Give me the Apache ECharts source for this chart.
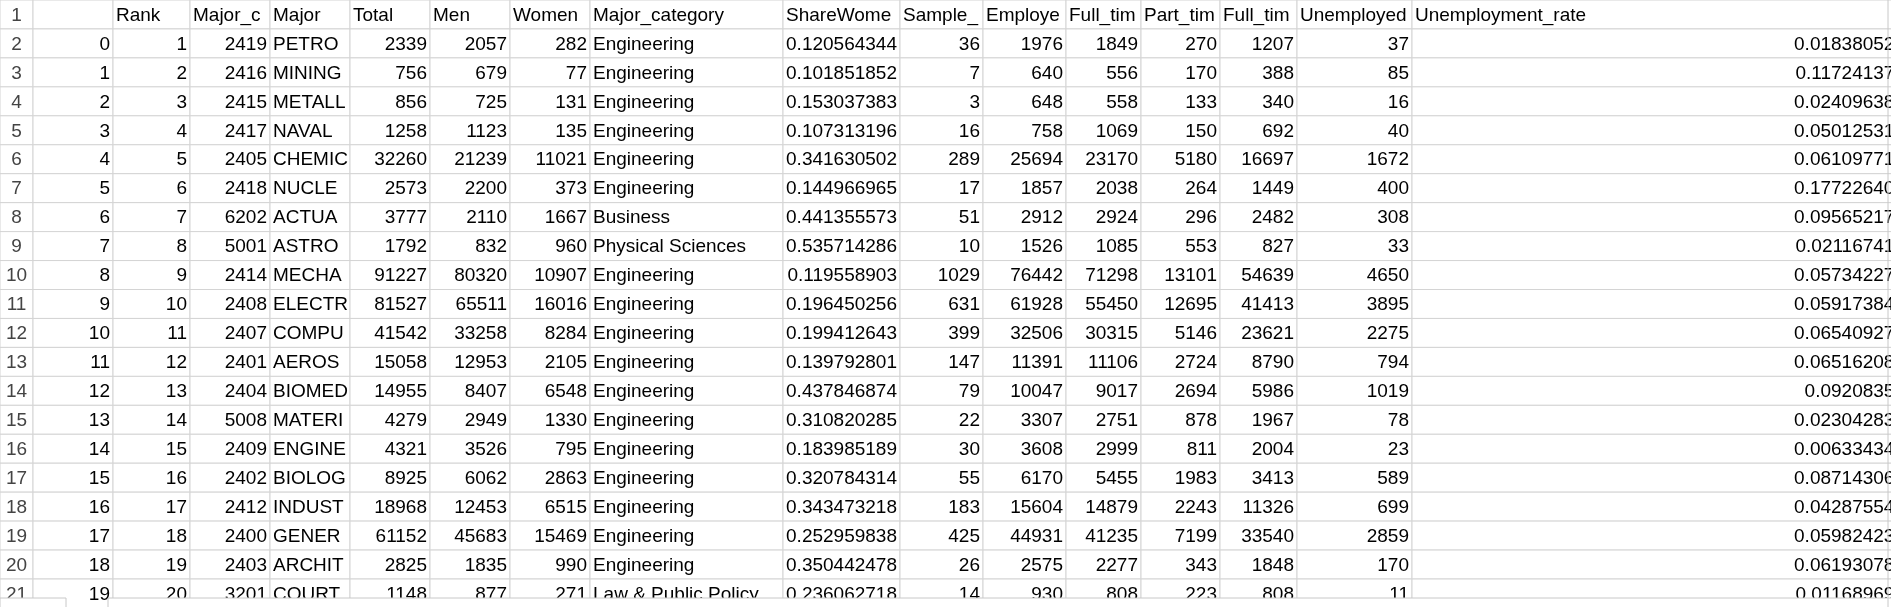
<!DOCTYPE html>
<html>
<head>
<meta charset="utf-8">
<script src="https://cdn.jsdelivr.net/npm/echarts@6/dist/echarts.min.js"></script>
<style>html,body{margin:0;padding:0;background:#fff}#main{width:1891px;height:607px}</style>
</head>
<body>
<div id="main"></div>
<script>
var headers = ['', 'Rank', 'Major_code', 'Major', 'Total', 'Men', 'Women', 'Major_category', 'ShareWomen',
  'Sample_size', 'Employed', 'Full_time', 'Part_time', 'Full_time_year_round', 'Unemployed', 'Unemployment_rate'];
var idx = [0, 1, 2, 3, 4, 5, 6, 7, 8, 9, 10, 11, 12, 13, 14, 15, 16, 17, 18, 19];
var rank = [1, 2, 3, 4, 5, 6, 7, 8, 9, 10, 11, 12, 13, 14, 15, 16, 17, 18, 19, 20];
var majorCode = [2419, 2416, 2415, 2417, 2405, 2418, 6202, 5001, 2414, 2408, 2407, 2401, 2404, 5008, 2409, 2402, 2412, 2400, 2403, 3201];
var major = ['PETROLEUM ENGINEERING', 'MINING AND MINERAL ENGINEERING', 'METALLURGICAL ENGINEERING',
  'NAVAL ARCHITECTURE AND MARINE ENGINEERING', 'CHEMICAL ENGINEERING', 'NUCLEAR ENGINEERING', 'ACTUARIAL SCIENCE',
  'ASTRONOMY AND ASTROPHYSICS', 'MECHANICAL ENGINEERING', 'ELECTRICAL ENGINEERING', 'COMPUTER ENGINEERING',
  'AEROSPACE ENGINEERING', 'BIOMEDICAL ENGINEERING', 'MATERIALS SCIENCE', 'ENGINEERING MECHANICS PHYSICS AND SCIENCE',
  'BIOLOGICAL ENGINEERING', 'INDUSTRIAL AND MANUFACTURING ENGINEERING', 'GENERAL ENGINEERING',
  'ARCHITECTURAL ENGINEERING', 'COURT REPORTING'];
var total = [2339, 756, 856, 1258, 32260, 2573, 3777, 1792, 91227, 81527, 41542, 15058, 14955, 4279, 4321, 8925, 18968, 61152, 2825, 1148];
var men = [2057, 679, 725, 1123, 21239, 2200, 2110, 832, 80320, 65511, 33258, 12953, 8407, 2949, 3526, 6062, 12453, 45683, 1835, 877];
var women = [282, 77, 131, 135, 11021, 373, 1667, 960, 10907, 16016, 8284, 2105, 6548, 1330, 795, 2863, 6515, 15469, 990, 271];
var category = ['Engineering', 'Engineering', 'Engineering', 'Engineering', 'Engineering', 'Engineering', 'Business',
  'Physical Sciences', 'Engineering', 'Engineering', 'Engineering', 'Engineering', 'Engineering', 'Engineering',
  'Engineering', 'Engineering', 'Engineering', 'Engineering', 'Engineering', 'Law & Public Policy'];
var shareWomen = ['0.120564344', '0.101851852', '0.153037383', '0.107313196', '0.341630502', '0.144966965',
  '0.441355573', '0.535714286', '0.119558903', '0.196450256', '0.199412643', '0.139792801', '0.437846874',
  '0.310820285', '0.183985189', '0.320784314', '0.343473218', '0.252959838', '0.350442478', '0.236062718'];
var sampleSize = [36, 7, 3, 16, 289, 17, 51, 10, 1029, 631, 399, 147, 79, 22, 30, 55, 183, 425, 26, 14];
var employed = [1976, 640, 648, 758, 25694, 1857, 2912, 1526, 76442, 61928, 32506, 11391, 10047, 3307, 3608, 6170, 15604, 44931, 2575, 930];
var fullTime = [1849, 556, 558, 1069, 23170, 2038, 2924, 1085, 71298, 55450, 30315, 11106, 9017, 2751, 2999, 5455, 14879, 41235, 2277, 808];
var partTime = [270, 170, 133, 150, 5180, 264, 296, 553, 13101, 12695, 5146, 2724, 2694, 878, 811, 1983, 2243, 7199, 343, 223];
var fullTimeYear = [1207, 388, 340, 692, 16697, 1449, 2482, 827, 54639, 41413, 23621, 8790, 5986, 1967, 2004, 3413, 11326, 33540, 1848, 808];
var unemployed = [37, 85, 16, 40, 1672, 400, 308, 33, 4650, 3895, 2275, 794, 1019, 78, 23, 589, 699, 2859, 170, 11];
var unempRate = ['0.018380527', '0.117241379', '0.024096386', '0.050125313', '0.061097712', '0.177226407',
  '0.095652174', '0.021167415', '0.057342278', '0.059173845', '0.065409275', '0.065162085', '0.09208358',
  '0.023042836', '0.006334343', '0.087143069', '0.042875544', '0.059824231', '0.061930783', '0.011689692'];

var columns = [idx, rank, majorCode, major, total, men, women, category, shareWomen, sampleSize,
  employed, fullTime, partTime, fullTimeYear, unemployed, unempRate];
var textCols = {3: true, 7: true};

// layout
var colEdges = [0, 33, 113, 190, 270, 350, 430, 510, 590, 783, 900, 983, 1066, 1141, 1220, 1297, 1412, 1908];
var rowH = 28.95;
var FONT = '"Liberation Sans Narrow", "Liberation Sans", Arial, sans-serif';

// cells: [col, row, text, align, kind]; col -1 = row header, row 0 = column header
var cells = [];
for (var r = 0; r <= idx.length; r++) {
  cells.push([-1, r, String(r + 1), 'center', 'rowhead']);
}
for (var c = 0; c < headers.length; c++) {
  cells.push([c, 0, headers[c], 'left', 'head']);
  for (var r2 = 0; r2 < idx.length; r2++) {
    var v = columns[c][r2];
    cells.push([c, r2 + 1, String(v), textCols[c] ? 'left' : 'right', 'cell']);
  }
}

var myChart = echarts.init(document.getElementById('main'));
var option = {
  animation: false,
  backgroundColor: '#fff',
  grid: {left: 0, right: 0, top: 0, bottom: 0},
  xAxis: {type: 'value', min: 0, max: 1891, show: false},
  yAxis: {type: 'value', min: 0, max: 607, inverse: true, show: false},
  series: [{
    type: 'custom',
    clip: true,
    data: cells,
    renderItem: function (params, api) {
      var col = api.value(0), row = api.value(1);
      var item = cells[params.dataIndex];
      var x0 = col < 0 ? colEdges[0] : colEdges[col + 1];
      var x1 = col < 0 ? colEdges[1] : colEdges[col + 2];
      var p0 = api.coord([x0, row * rowH]);
      var p1 = api.coord([x1, (row + 1) * rowH]);
      var w = p1[0] - p0[0], h = p1[1] - p0[1];
      var align = item[3];
      var tx = align === 'left' ? p0[0] + 3 : align === 'right' ? p1[0] - 3 : p0[0] + w / 2;
      return {
        type: 'group',
        children: [{
          type: 'rect',
          shape: {x: p0[0], y: p0[1], width: w, height: h},
          style: {fill: '#fff', stroke: '#d4d4d4', lineWidth: 1}
        }, {
          type: 'text',
          style: {
            x: tx, y: p0[1] + h / 2 + 1,
            text: item[2],
            align: align, verticalAlign: 'middle',
            fill: item[4] === 'rowhead' ? '#444' : '#000',
            font: '19px ' + FONT,
            width: w - 3,
            overflow: 'truncate', ellipsis: ''
          }
        }]
      };
    }
  }],
  graphic: [
    {type: 'rect', z: 100, shape: {x: 0, y: 598, width: 66, height: 10}, style: {fill: '#fff', stroke: '#c8c8c8'}},
    {type: 'rect', z: 100, shape: {x: 108, y: 598, width: 1790, height: 10}, style: {fill: '#fff', stroke: '#c8c8c8'}},
    {type: 'line', z: 100, shape: {x1: 1888, y1: 0, x2: 1888, y2: 607}, style: {stroke: '#c8c8c8'}}
  ]
};
myChart.setOption(option);
</script>
</body>
</html>
